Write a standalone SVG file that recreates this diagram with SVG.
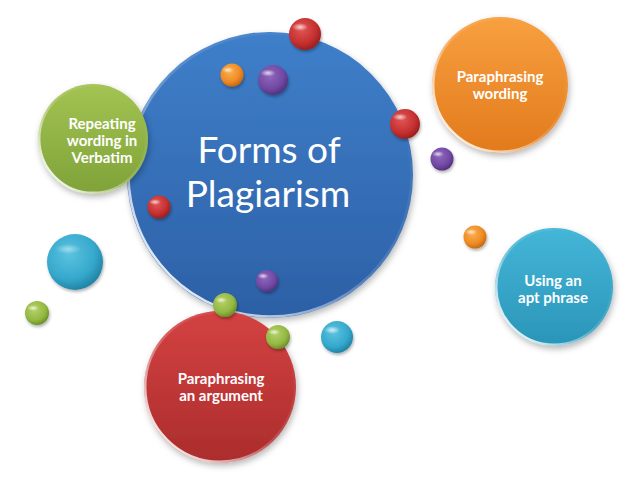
<svg xmlns="http://www.w3.org/2000/svg" width="638" height="479" viewBox="0 0 638 479">
<defs>
<filter id="sh" x="-20%" y="-20%" width="140%" height="140%"><feDropShadow dx="1.5" dy="3" stdDeviation="3" flood-color="#000" flood-opacity="0.28"/></filter>
<filter id="shs" x="-40%" y="-40%" width="180%" height="180%"><feDropShadow dx="1" dy="2" stdDeviation="1.5" flood-color="#000" flood-opacity="0.3"/></filter>
<linearGradient id="gBlue" x1="0" y1="0" x2="0" y2="1"><stop offset="0" stop-color="#3f7fca"/><stop offset="1" stop-color="#2c60a6"/></linearGradient>
<linearGradient id="gGreen" x1="0" y1="0" x2="0" y2="1"><stop offset="0" stop-color="#a3c452"/><stop offset="1" stop-color="#7fa239"/></linearGradient>
<linearGradient id="gOrange" x1="0" y1="0" x2="0" y2="1"><stop offset="0" stop-color="#f8a040"/><stop offset="1" stop-color="#e27a1c"/></linearGradient>
<linearGradient id="gCyan" x1="0" y1="0" x2="0" y2="1"><stop offset="0" stop-color="#44b6d8"/><stop offset="1" stop-color="#2a95b8"/></linearGradient>
<linearGradient id="gRed" x1="0" y1="0" x2="0" y2="1"><stop offset="0" stop-color="#d44242"/><stop offset="1" stop-color="#ab2c2c"/></linearGradient>
<linearGradient id="rim" x1="0.85" y1="0.15" x2="0.15" y2="0.85"><stop offset="0" stop-color="#fff" stop-opacity="0"/><stop offset="0.5" stop-color="#fff" stop-opacity="0.15"/><stop offset="1" stop-color="#fff" stop-opacity="0.85"/></linearGradient>
<radialGradient id="bRed" cx="0.4" cy="0.35" r="0.65"><stop offset="0" stop-color="#e25555"/><stop offset="0.7" stop-color="#c42f2f"/><stop offset="1" stop-color="#9c2020"/></radialGradient>
<radialGradient id="bOrange" cx="0.4" cy="0.35" r="0.65"><stop offset="0" stop-color="#fbb050"/><stop offset="0.7" stop-color="#ee8a24"/><stop offset="1" stop-color="#c86a10"/></radialGradient>
<radialGradient id="bPurple" cx="0.4" cy="0.35" r="0.65"><stop offset="0" stop-color="#9068bd"/><stop offset="0.7" stop-color="#7048a2"/><stop offset="1" stop-color="#543282"/></radialGradient>
<radialGradient id="bGreen" cx="0.4" cy="0.35" r="0.65"><stop offset="0" stop-color="#b5d267"/><stop offset="0.7" stop-color="#93b843"/><stop offset="1" stop-color="#6f9228"/></radialGradient>
<radialGradient id="bCyan" cx="0.4" cy="0.35" r="0.65"><stop offset="0" stop-color="#5cc3e0"/><stop offset="0.7" stop-color="#35a8cc"/><stop offset="1" stop-color="#2286a8"/></radialGradient>
<radialGradient id="hl" cx="0.5" cy="0.5" r="0.5"><stop offset="0" stop-color="#fff" stop-opacity="0.75"/><stop offset="1" stop-color="#fff" stop-opacity="0"/></radialGradient>
</defs>
<style>
.big{filter:url(#sh);}
.rim{fill:none;stroke:url(#rim);stroke-width:2.5;}
.ball{filter:url(#shs);}
.lbl{font-family:Lato,"Open Sans","Liberation Sans",sans-serif;font-weight:bold;font-size:15px;fill:#fff;text-anchor:middle;}
.title{font-family:Lato,"Open Sans","Liberation Sans",sans-serif;font-size:37px;fill:#fff;text-anchor:middle;}
</style>
<rect width="638" height="479" fill="#fff"/>

<g id="node-forms">
<circle class="big" cx="270" cy="175" r="143" fill="url(#gBlue)"/>
<circle class="rim" cx="270" cy="175" r="141.5"/>
<text class="title" x="269" y="163">Forms of</text>
<text class="title" x="268" y="207">Plagiarism</text>
</g>

<g id="node-verbatim">
<circle class="big" cx="93" cy="139" r="55" fill="url(#gGreen)"/>
<circle class="rim" cx="93" cy="139" r="53.8"/>
<text class="lbl" x="102" y="129">Repeating</text>
<text class="lbl" x="102" y="146">wording in</text>
<text class="lbl" x="102" y="163">Verbatim</text>
</g>

<g id="node-wording">
<circle class="big" cx="500" cy="85" r="68" fill="url(#gOrange)"/>
<circle class="rim" cx="500" cy="85" r="66.8"/>
<text class="lbl" x="500" y="82">Paraphrasing</text>
<text class="lbl" x="500" y="99">wording</text>
</g>

<g id="node-phrase">
<circle class="big" cx="554" cy="287" r="59" fill="url(#gCyan)"/>
<circle class="rim" cx="554" cy="287" r="57.8"/>
<text class="lbl" x="553" y="286">Using an</text>
<text class="lbl" x="553" y="303">apt phrase</text>
</g>

<g id="node-argument">
<circle class="big" cx="220" cy="387" r="76" fill="url(#gRed)"/>
<circle class="rim" cx="220" cy="387" r="74.8"/>
<text class="lbl" x="221" y="384">Paraphrasing</text>
<text class="lbl" x="221" y="401">an argument</text>
</g>

<g id="balls">
<g class="ball"><circle cx="305" cy="34" r="16" fill="url(#bRed)"/><ellipse cx="300" cy="27" rx="8" ry="4" fill="url(#hl)"/></g>
<g class="ball"><circle cx="232" cy="75" r="11.5" fill="url(#bOrange)"/><ellipse cx="228" cy="70" rx="6" ry="3" fill="url(#hl)"/></g>
<g class="ball"><circle cx="273" cy="80" r="15" fill="url(#bPurple)"/><ellipse cx="268" cy="73" rx="7.5" ry="3.5" fill="url(#hl)"/></g>
<g class="ball"><circle cx="405" cy="124" r="15" fill="url(#bRed)"/><ellipse cx="400" cy="117" rx="7.5" ry="3.5" fill="url(#hl)"/></g>
<g class="ball"><circle cx="442" cy="159" r="11.5" fill="url(#bPurple)"/><ellipse cx="438" cy="154" rx="6" ry="3" fill="url(#hl)"/></g>
<g class="ball"><circle cx="159" cy="207" r="11.5" fill="url(#bRed)"/><ellipse cx="155" cy="202" rx="6" ry="3" fill="url(#hl)"/></g>
<g class="ball"><circle cx="475" cy="237" r="11.5" fill="url(#bOrange)"/><ellipse cx="471" cy="232" rx="6" ry="3" fill="url(#hl)"/></g>
<g class="ball"><circle cx="267" cy="281" r="11" fill="url(#bPurple)"/><ellipse cx="263" cy="276" rx="5.5" ry="3" fill="url(#hl)"/></g>
<g class="ball"><circle cx="225" cy="305" r="12" fill="url(#bGreen)"/><ellipse cx="221" cy="300" rx="6" ry="3" fill="url(#hl)"/></g>
<g class="ball"><circle cx="278" cy="337" r="12" fill="url(#bGreen)"/><ellipse cx="274" cy="332" rx="6" ry="3" fill="url(#hl)"/></g>
<g class="ball"><circle cx="337" cy="337" r="16" fill="url(#bCyan)"/><ellipse cx="332" cy="330" rx="8" ry="4" fill="url(#hl)"/></g>
<g class="ball"><circle cx="75" cy="262" r="28" fill="url(#bCyan)"/><ellipse cx="68" cy="249" rx="13" ry="5" fill="url(#hl)" opacity="0.6"/></g>
<g class="ball"><circle cx="37" cy="313" r="12" fill="url(#bGreen)"/><ellipse cx="33" cy="308" rx="6" ry="3" fill="url(#hl)"/></g>
</g>
</svg>
